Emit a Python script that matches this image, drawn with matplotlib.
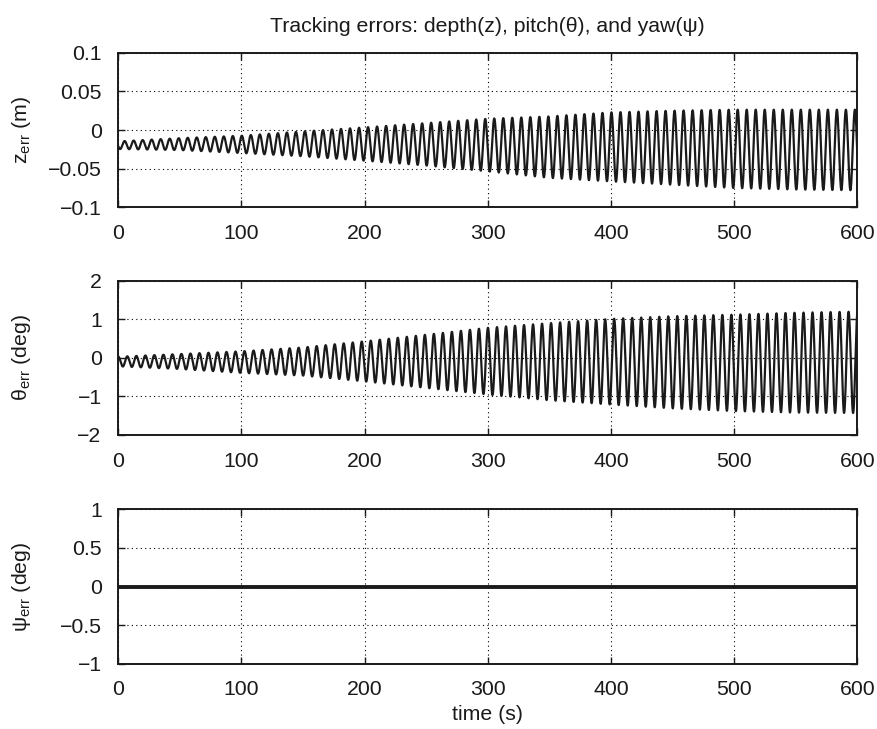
import numpy as np
import matplotlib
matplotlib.use("Agg")
import matplotlib.pyplot as plt
from matplotlib.ticker import FixedLocator, FuncFormatter

plt.rcParams['font.family'] = ['Liberation Sans', 'DejaVu Sans']
plt.rcParams['mathtext.fontset'] = 'custom'
plt.rcParams['mathtext.rm'] = 'Liberation Sans'
plt.rcParams['mathtext.it'] = 'Liberation Sans'
plt.rcParams['axes.unicode_minus'] = True

# ---- data ----
title = "Tracking errors: depth(z), pitch(θ), and yaw(ψ)"
x_label = "time (s)"
x_ticks = [0, 100, 200, 300, 400, 500, 600]

# oscillation period (s) and phase offsets (cycles) of the tracking errors
period = 7.32
z_phase = 0.7
theta_phase = 0.0

# envelope sample times (s)
env_t = [0, 50, 100, 150, 200, 250, 300, 350, 400, 450, 500, 550, 600]
# depth error envelope (m): peaks and troughs
z_upper = [-0.0147, -0.0105, -0.0074, -0.0018, 0.0034, 0.0090, 0.0146,
           0.0176, 0.0228, 0.0250, 0.0263, 0.0263, 0.0263]
z_lower = [-0.0246, -0.0260, -0.0298, -0.0340, -0.0397, -0.0460, -0.0535,
           -0.0620, -0.0665, -0.0708, -0.0750, -0.0770, -0.0780]
# pitch error envelope (deg)
theta_upper = [0.03, 0.10, 0.17, 0.27, 0.43, 0.60, 0.78, 0.90, 1.01, 1.08,
               1.12, 1.17, 1.20]
theta_lower = [-0.22, -0.29, -0.39, -0.46, -0.61, -0.78, -0.95, -1.10, -1.21,
               -1.31, -1.38, -1.42, -1.43]
# yaw error (deg)
psi_t = [0, 600]
psi_vals = [0.0, 0.0]

z_ticks = [-0.1, -0.05, 0, 0.05, 0.1]
theta_ticks = [-2, -1, 0, 1, 2]
psi_ticks = [-1, -0.5, 0, 0.5, 1]
y_labels = [r"$\mathrm{z_{err}}$ (m)", r"$\mathrm{\theta_{err}}$ (deg)",
            r"$\mathrm{\psi_{err}}$ (deg)"]


def oscillation(t, upper, lower, phase):
    up = np.interp(t, env_t, upper)
    lo = np.interp(t, env_t, lower)
    mid = 0.5 * (up + lo)
    amp = 0.5 * (up - lo)
    return mid + amp * np.cos(2 * np.pi * (t / period - phase))


t = np.linspace(0, 600, 24001)
z_err = oscillation(t, z_upper, z_lower, z_phase)
theta_err = oscillation(t, theta_upper, theta_lower, theta_phase)

W, H = 878, 729
fig = plt.figure(figsize=(W / 100, H / 100), dpi=100)

left, right = 118.3, 857.3
panels = [(52.7, 207.3), (280.7, 435.0), (509.3, 663.7)]
axes = []
for top, bot in panels:
    ax = fig.add_axes([left / W, 1 - bot / H, (right - left) / W, (bot - top) / H])
    axes.append(ax)

fs = 15.3


def fmt(v, pos):
    s = "%g" % v
    return s.replace("-", "\u2212")


series = [(t, z_err, 1.6), (t, theta_err, 1.6), (psi_t, psi_vals, 2.8)]
ylims = [(-0.1, 0.1), (-2, 2), (-1, 1)]
yticks = [z_ticks, theta_ticks, psi_ticks]

for ax, (xx, yy, lw), yl, yt, lab in zip(axes, series, ylims, yticks, y_labels):
    ax.plot(xx, yy, color="#1a1a1a", lw=lw, solid_joinstyle="round")
    ax.set_xlim(0, 600)
    ax.set_ylim(*yl)
    ax.xaxis.set_major_locator(FixedLocator(x_ticks))
    ax.yaxis.set_major_locator(FixedLocator(yt))
    ax.xaxis.set_major_formatter(FuncFormatter(fmt))
    ax.yaxis.set_major_formatter(FuncFormatter(fmt))
    ax.grid(True, color="black", linestyle=(0, (1, 3)), lw=0.8)
    ax.tick_params(direction="in", length=5, width=1.0, top=True, right=True,
                   labelsize=fs, colors="#1a1a1a")
    ax.tick_params(axis="x", pad=12)
    ax.tick_params(axis="y", pad=12)
    for sp in ax.spines.values():
        sp.set_linewidth(1.4)
        sp.set_color("#1a1a1a")
    ax.set_ylabel(lab, fontsize=fs, color="#1a1a1a")
    ax.yaxis.set_label_coords(-0.115, 0.5)

axes[0].set_title(title, fontsize=fs, color="#1a1a1a", pad=15)
axes[2].set_xlabel(x_label, fontsize=fs, color="#1a1a1a", labelpad=4)

fig.savefig("out.png", dpi=100)
